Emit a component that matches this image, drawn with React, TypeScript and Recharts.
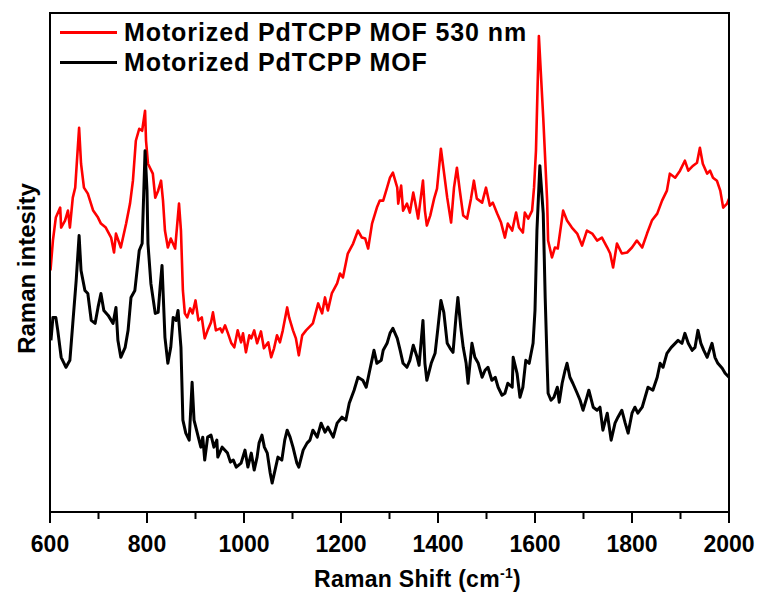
import { LineChart, Line, XAxis, YAxis, Legend } from "recharts";

// Raman shift (cm-1) and intensity (a.u.)
const redShift = [
  601, 606, 612, 621, 623, 631, 637, 641, 647, 652, 660, 664, 670, 678, 689, 699, 705, 715, 726, 732,
  736, 746, 757, 765, 771, 777, 784, 790, 796, 798, 802, 812, 817, 823, 829, 833, 837, 843, 849, 858,
  866, 870, 874, 878, 883, 889, 894, 900, 906, 913, 919, 925, 932, 936, 942, 951, 955, 961, 967, 974,
  980, 987, 994, 998, 1004, 1011, 1015, 1021, 1027, 1035, 1041, 1050, 1056, 1062, 1068, 1074, 1080, 1089, 1093, 1101,
  1107, 1113, 1120, 1128, 1134, 1142, 1153, 1161, 1167,
  1173, 1181, 1192, 1198, 1204, 1214, 1225, 1235, 1243, 1250, 1256, 1264, 1274, 1280, 1287, 1295, 1301, 1307, 1316, 1318,
  1324, 1328, 1336, 1342, 1349, 1353, 1359, 1369, 1373, 1377, 1384, 1392, 1398, 1406, 1410, 1419, 1427, 1433, 1439, 1445,
  1452, 1460, 1468, 1474, 1480, 1491, 1499, 1507, 1513, 1522, 1530, 1538, 1544, 1553, 1561, 1567, 1575, 1579, 1586, 1594,
  1598, 1602, 1608, 1617, 1625, 1627, 1635, 1641, 1647, 1658, 1666, 1676, 1687, 1697, 1707, 1718, 1728, 1738, 1749, 1755,
  1761, 1769, 1779, 1790, 1800, 1810, 1821, 1831, 1841, 1852, 1862, 1872, 1878, 1889, 1899, 1909, 1916, 1926, 1934, 1940,
  1946, 1955, 1961, 1967, 1975, 1982, 1988, 1996, 2000,
];
const redIntensity = [
  242, 272, 295, 305, 285, 292, 302, 285, 315, 325, 385, 349, 325, 319, 302, 295, 289, 285, 275, 260,
  279, 265, 289, 309, 332, 372, 384, 382, 402, 372, 349, 339, 315, 322, 332, 312, 282, 265, 274, 264,
  309, 282, 222, 199, 195, 204, 199, 212, 192, 195, 174, 182, 190, 200, 182, 184, 180, 187, 179, 169,
  165, 182, 170, 179, 160, 177, 174, 182, 169, 181, 164, 170, 155, 164, 177, 170, 182, 205, 195, 182,
  174, 157, 177, 182, 185, 189, 209, 199, 215,
  202, 219, 229, 239, 235, 259, 269, 282, 275, 274, 264, 289, 305, 312, 312, 325, 335, 340, 325, 309,
  327, 302, 309, 300, 320, 310, 294, 332, 302, 287, 297, 314, 324, 364, 349, 315, 290, 325, 345, 322,
  297, 294, 314, 332, 314, 310, 325, 307, 310, 299, 290, 275, 289, 282, 300, 285, 280, 300, 294, 302,
  325, 362, 477, 395, 312, 272, 255, 265, 264, 302, 292, 285, 279, 267, 282, 279, 272, 275, 265, 259,
  245, 269, 259, 260, 265, 272, 265, 279, 292, 299, 312, 322, 339, 335, 342, 352, 342, 347, 350, 365,
  349, 339, 342, 335, 332, 322, 305, 309, 314,
];

const blackShift = [
  602, 606, 612, 616, 623, 633, 641, 647, 654, 660, 664, 672, 678, 685, 693, 699, 705, 711, 720, 730,
  736, 740, 746, 755, 761, 767, 775, 784, 790, 796, 800, 802, 808, 817, 823, 827, 831, 837, 843, 849,
  854, 860, 864, 870, 874, 880, 887, 893, 897, 911, 915, 919, 925, 932, 938, 944, 946, 955, 966, 972,
  978, 984, 994, 1002, 1008, 1015, 1021, 1027, 1031, 1037, 1042, 1048, 1054, 1058, 1064, 1070, 1078, 1084, 1089, 1095,
  1101, 1109, 1113, 1122, 1130, 1136, 1142, 1151,
  1159, 1167, 1173, 1184, 1192, 1202, 1210, 1217, 1227, 1235, 1245, 1252, 1258, 1268, 1274, 1283, 1287, 1295, 1301, 1307,
  1316, 1322, 1328, 1336, 1342, 1349, 1357, 1361, 1369, 1373, 1377, 1386, 1394, 1400, 1406, 1412, 1419, 1425, 1431, 1437,
  1441, 1447, 1452, 1458, 1462, 1470, 1476, 1483, 1491, 1497, 1503, 1511, 1518, 1524, 1532, 1538, 1544, 1553, 1555, 1563,
  1569, 1575, 1581, 1588, 1596, 1600, 1604, 1610, 1617, 1621, 1625, 1627, 1633, 1639, 1646, 1650, 1656, 1662, 1666, 1672,
  1678, 1687, 1693, 1699, 1707, 1711, 1720, 1728, 1734, 1740, 1749, 1757, 1765, 1771, 1779, 1786, 1792, 1800, 1806, 1812,
  1821, 1827, 1833, 1843, 1852, 1858, 1864, 1872, 1881, 1889, 1895, 1903, 1909, 1916, 1924, 1930, 1936, 1942, 1948, 1955,
  1965, 1971, 1977, 1986, 1992, 2000,
];
const blackIntensity = [
  172, 195, 195, 182, 155, 145, 152, 189, 232, 277, 242, 222, 219, 192, 189, 205, 219, 202, 197, 189,
  205, 172, 155, 165, 182, 215, 222, 262, 269, 362, 322, 269, 229, 199, 200, 225, 247, 175, 149, 165,
  195, 192, 202, 165, 92, 79, 72, 130, 92, 65, 75, 52, 75, 77, 65, 72, 55, 65, 59, 50,
  52, 45, 49, 62, 45, 59, 42, 55, 69, 77, 65, 59, 39, 29, 42, 55, 52, 72, 82, 75,
  65, 49, 45, 62, 69, 72, 82, 75,
  89, 80, 85, 75, 89, 95, 92, 109, 122, 135, 132, 125, 139, 162, 149, 152, 162, 169, 179, 184,
  174, 162, 149, 145, 152, 167, 155, 147, 192, 149, 132, 149, 159, 185, 212, 200, 169, 164, 160, 195,
  215, 185, 165, 149, 129, 169, 155, 149, 135, 142, 145, 132, 135, 125, 117, 119, 129, 125, 155, 139,
  115, 125, 152, 149, 169, 202, 282, 347, 299, 215, 149, 119, 112, 115, 125, 110, 129, 142, 149, 135,
  129, 119, 112, 102, 115, 122, 105, 102, 105, 82, 99, 72, 89, 95, 102, 89, 79, 99, 105, 99,
  105, 115, 125, 122, 135, 149, 145, 159, 165, 169, 172, 169, 179, 169, 162, 165, 182, 169, 162, 155,
  169, 155, 149, 144, 139, 135,
];

const majorTicks = [600, 800, 1000, 1200, 1400, 1600, 1800, 2000];
const allTicks = [600, 700, 800, 900, 1000, 1100, 1200, 1300, 1400, 1500, 1600, 1700, 1800, 1900, 2000];

const FONT = "Arial, 'Liberation Sans', Helvetica, sans-serif";

const series = [
  { name: "Motorized PdTCPP MOF 530 nm", color: "#ff0000", width: 2.6, shift: redShift, values: redIntensity },
  { name: "Motorized PdTCPP MOF", color: "#000000", width: 3, shift: blackShift, values: blackIntensity },
];

const toRows = (xs: number[], ys: number[]) => xs.map((x, i) => ({ shift: x, intensity: ys[i] }));

const renderXTick = (props: any) => {
  const { x, y, payload } = props;
  const major = majorTicks.includes(payload.value);
  return (
    <g>
      <line x1={x} x2={x} y1={y} y2={y + (major ? 11 : 7)} stroke="#000" strokeWidth={2} />
      {major && (
        <text x={x} y={y + 40} textAnchor="middle" fontSize={23} fontWeight={700} fontFamily={FONT} fill="#000">
          {payload.value}
        </text>
      )}
    </g>
  );
};

const XLabel = (props: any) => {
  const vb = props.viewBox || { x: 50, y: 512, width: 679, height: 80 };
  return (
    <text x={vb.x + vb.width / 2 + 28} y={vb.y + 75} textAnchor="middle" fontSize={23} fontWeight={700} fontFamily={FONT} fill="#000" letterSpacing={0.3}>
      Raman Shift (cm
      <tspan fontSize={14} dy={-9}>-1</tspan>
      <tspan dy={9}>)</tspan>
    </text>
  );
};

const YLabel = (props: any) => {
  const vb = props.viewBox || { x: 0, y: 13, width: 50, height: 499 };
  const cx = vb.x + 35;
  const cy = vb.y + vb.height / 2 + 6;
  return (
    <text x={cx} y={cy} transform={`rotate(-90 ${cx} ${cy})`} textAnchor="middle" fontSize={24} fontWeight={700} fontFamily={FONT} fill="#000">
      Raman intesity
    </text>
  );
};

const renderLegend = () => (
  <div style={{ fontFamily: FONT }}>
    {series.map((s) => (
      <div key={s.name} style={{ display: "flex", alignItems: "center", height: 30 }}>
        <div style={{ width: 57, height: 0, borderTop: `3px solid ${s.color}`, marginRight: 7 }} />
        <span style={{ fontSize: 25, fontWeight: 700, color: "#000", whiteSpace: "nowrap", lineHeight: "30px", letterSpacing: 0.9 }}>
          {s.name}
        </span>
      </div>
    ))}
  </div>
);

const frameLine = { stroke: "#000", strokeWidth: 2 };

export default function App() {
  return (
    <div style={{ position: "absolute", left: 0, top: 0, width: 758, height: 592, background: "#fff" }}>
      <LineChart width={758} height={592} margin={{ top: 13, right: 29, bottom: 0, left: 0 }}>
        <XAxis
          type="number"
          dataKey="shift"
          domain={[600, 2000]}
          ticks={allTicks}
          interval={0}
          allowDataOverflow
          axisLine={frameLine}
          tickLine={false}
          tickSize={0}
          tickMargin={0}
          tick={renderXTick}
          height={80}
          label={<XLabel />}
        />
        <YAxis
          type="number"
          domain={[0, 500]}
          allowDataOverflow
          width={50}
          tick={false}
          tickLine={false}
          axisLine={frameLine}
          label={<YLabel />}
        />
        {series.map((s) => (
          <Line
            key={s.name}
            data={toRows(s.shift, s.values)}
            dataKey="intensity"
            name={s.name}
            type="linear"
            stroke={s.color}
            strokeWidth={s.width}
            strokeLinejoin="round"
            dot={false}
            isAnimationActive={false}
          />
        ))}
        <Legend
          layout="vertical"
          align="center"
          verticalAlign="middle"
          content={renderLegend}
          wrapperStyle={{ top: 17, left: 60, width: "auto", height: "auto" }}
        />
      </LineChart>
      {/* closed plot frame */}
      <div
        style={{
          position: "absolute",
          left: 49,
          top: 12,
          width: 681,
          height: 501,
          border: "2px solid #000",
          boxSizing: "border-box",
          pointerEvents: "none",
        }}
      />
    </div>
  );
}
